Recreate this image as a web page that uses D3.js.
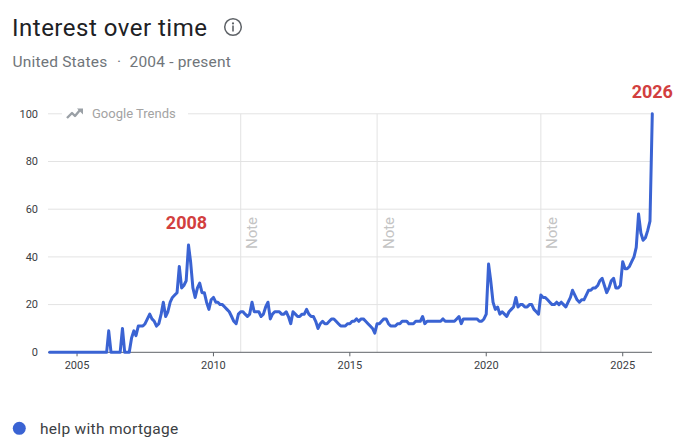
<!DOCTYPE html>
<html>
<head>
<meta charset="utf-8">
<script src="https://cdn.jsdelivr.net/npm/d3@7"></script>
<style>
  body { margin: 0; background: #fff; font-family: Roboto, "Open Sans", sans-serif; }
  svg { display: block; }
</style>
</head>
<body>
<div id="chart"></div>
<script>
/**
 * Data
 */
const startYear = 2004;
// monthly interest, Jan 2004 .. Feb 2026
const interest = [
  0, 0, 0, 0, 0, 0, 0, 0, 0, 0, 0, 0, // 2004
  0, 0, 0, 0, 0, 0, 0, 0, 0, 0, 0, 0, // 2005
  0, 0, 9, 0, 0, 0, 0, 0, 10, 0, 0, 0, // 2006
  6, 9, 7, 11, 11, 11, 12, 14, 16, 14, 13, 11, // 2007
  12, 16, 21, 15, 17, 21, 23, 24, 25, 36, 27, 28, // 2008
  30, 45, 38, 27, 23, 27, 29, 25, 25, 21, 18, 22, // 2009
  23, 21, 21, 20, 20, 19, 18, 17, 15, 13, 12, 16, // 2010
  17, 17, 16, 15, 16, 21, 17, 17, 17, 15, 16, 19, // 2011
  21, 14, 16, 17, 17, 17, 16, 16, 17, 15, 12, 17, // 2012
  16, 15, 15, 16, 16, 18, 16, 15, 15, 13, 10, 12, // 2013
  13, 12, 12, 13, 14, 14, 13, 12, 11, 11, 11, 12, // 2014
  12, 13, 13, 14, 13, 14, 14, 13, 12, 11, 10, 8, // 2015
  12, 12, 13, 14, 14, 12, 11, 11, 11, 12, 12, 13, // 2016
  13, 13, 12, 12, 12, 13, 13, 13, 15, 12, 13, 13, // 2017
  13, 13, 13, 13, 13, 14, 13, 13, 13, 13, 13, 14, // 2018
  15, 12, 14, 14, 14, 14, 14, 14, 14, 13, 13, 14, // 2019
  16, 37, 30, 21, 18, 19, 16, 17, 16, 15, 17, 18, // 2020
  19, 23, 19, 20, 20, 19, 19, 20, 20, 18, 17, 16, // 2021
  24, 23, 23, 22, 21, 20, 20, 21, 20, 21, 20, 19, // 2022
  21, 23, 26, 24, 22, 21, 22, 22, 24, 26, 26, 27, // 2023
  27, 28, 30, 31, 28, 25, 27, 30, 31, 27, 27, 28, // 2024
  38, 35, 35, 36, 38, 40, 44, 58, 50, 47, 48, 51, // 2025
  55, 100 // 2026
];
const yTicks = [0, 20, 40, 60, 80, 100];
const xTickYears = [2005, 2010, 2015, 2020, 2025];
const noteYears = [2011, 2016, 2022];
const peakLabels = ["2008", "2026"];
const peakMonths = [61, 265]; // index into interest
const subtitleParts = ["United States", "\u00b7", "2004 - present"];
const seriesName = "help with mortgage";

/**
 * Globals
 */
const W = 680, H = 447;
const lineColor = "#3a63d3";
const gridColor = "#e3e3e3";

const data = interest.map(function (v, i) {
  return { date: new Date(startYear, i, 1), value: v };
});

const scale = {
  x: d3.scaleTime()
    .domain([data[0].date, data[data.length - 1].date])
    .range([49.7, 652.3]),
  y: d3.scaleLinear().domain([0, 100]).range([352.3, 113.8])
};

const svg = d3.select("#chart").append("svg")
  .attr("width", W).attr("height", H);

// title
svg.append("text")
  .attr("x", 12).attr("y", 36)
  .style("font-size", "24px")
  .style("letter-spacing", "0.5px")
  .style("fill", "#202124")
  .text("Interest over time");

// info icon
const info = svg.append("g").attr("transform", "translate(233,27)");
info.append("circle").attr("r", 8.3)
  .style("fill", "none").style("stroke", "#5f6368").style("stroke-width", 1.5);
info.append("circle").attr("cy", -3.6).attr("r", 1.1).style("fill", "#5f6368");
info.append("rect").attr("x", -0.8).attr("y", -1.5).attr("width", 1.6).attr("height", 6)
  .style("fill", "#5f6368");

// subtitle, in three pieces so the gaps match
svg.selectAll(".subtitle").data(subtitleParts).enter().append("text")
  .attr("class", "subtitle")
  .attr("x", function (d, i) { return [12.5, 119, 129.5][i]; })
  .attr("y", 67)
  .attr("text-anchor", function (d, i) { return i === 1 ? "middle" : "start"; })
  .style("font-size", "15.5px")
  .style("letter-spacing", "0.2px")
  .style("fill", "#70757a")
  .text(function (d) { return d; });

// horizontal grid + y labels
const yAxis = svg.append("g").attr("class", "y axis");
yAxis.selectAll("line").data(yTicks.filter(function (d) { return d > 0; }))
  .enter().append("line")
  .attr("x1", 48).attr("x2", 652)
  .attr("y1", function (d) { return scale.y(d); })
  .attr("y2", function (d) { return scale.y(d); })
  .style("stroke", gridColor).style("stroke-width", 1);
yAxis.selectAll("text").data(yTicks)
  .enter().append("text")
  .attr("x", 38)
  .attr("y", function (d) { return scale.y(d); })
  .attr("dy", "0.35em")
  .attr("text-anchor", "end")
  .style("font-size", "11px")
  .style("fill", "#3c4043")
  .text(function (d) { return d; });

// note lines
const notes = svg.append("g").attr("class", "notes");
notes.selectAll("line").data(noteYears).enter().append("line")
  .attr("x1", function (d) { return scale.x(new Date(d, 0, 1)); })
  .attr("x2", function (d) { return scale.x(new Date(d, 0, 1)); })
  .attr("y1", scale.y(100)).attr("y2", scale.y(0))
  .style("stroke", gridColor).style("stroke-width", 1);
notes.selectAll("text").data(noteYears).enter().append("text")
  .attr("transform", function (d) {
    return "translate(" + (scale.x(new Date(d, 0, 1)) + 16.5) + ",233) rotate(-90)";
  })
  .attr("text-anchor", "middle")
  .style("font-size", "15px")
  .style("fill", "#c4c4c4")
  .text("Note");

// watermark
const wm = svg.append("g").attr("class", "watermark");
wm.append("rect").attr("x", 62).attr("y", 104).attr("width", 126).attr("height", 20)
  .style("fill", "#fff");
wm.append("path")
  .attr("d", "M67,118 L72,113 L75,116 L80,110")
  .style("fill", "none").style("stroke", "#9aa0a6").style("stroke-width", 2.4)
  .style("stroke-linejoin", "round");
wm.append("path").attr("d", "M77,108.5 L83,108.5 L83,114.5 Z").style("fill", "#9aa0a6");
wm.append("text")
  .attr("x", 92).attr("y", 118)
  .style("font-size", "13px")
  .style("fill", "#a3a3a3")
  .text("Google Trends");

// x axis
const xAxis = svg.append("g").attr("class", "x axis");
xAxis.append("line")
  .attr("x1", 48).attr("x2", 652)
  .attr("y1", scale.y(0)).attr("y2", scale.y(0))
  .style("stroke", "#5f6368").style("stroke-width", 1);
xAxis.selectAll("line.tick").data(xTickYears).enter().append("line")
  .attr("class", "tick")
  .attr("x1", function (d) { return scale.x(new Date(d, 0, 1)); })
  .attr("x2", function (d) { return scale.x(new Date(d, 0, 1)); })
  .attr("y1", scale.y(0)).attr("y2", scale.y(0) + 4)
  .style("stroke", "#5f6368");
xAxis.selectAll("text").data(xTickYears).enter().append("text")
  .attr("x", function (d) { return scale.x(new Date(d, 0, 1)); })
  .attr("y", 369)
  .attr("text-anchor", "middle")
  .style("font-size", "11px")
  .style("fill", "#3c4043")
  .text(function (d) { return d; });

// the series line
const line = d3.line()
  .x(function (d) { return scale.x(d.date); })
  .y(function (d) { return scale.y(d.value); });

svg.append("path")
  .datum(data)
  .attr("d", line)
  .style("fill", "none")
  .style("stroke", lineColor)
  .style("stroke-width", 3)
  .style("stroke-linejoin", "round")
  .style("stroke-linecap", "round");

// red peak labels
svg.selectAll(".peak").data(peakLabels).enter().append("text")
  .attr("class", "peak")
  .attr("x", function (d, i) { return scale.x(data[peakMonths[i]].date) + (i === 0 ? -2 : 0); })
  .attr("y", function (d, i) { return scale.y(data[peakMonths[i]].value) - 16; })
  .attr("text-anchor", "middle")
  .style("font-size", "18px")
  .style("font-weight", "bold")
  .style("fill", "#d23f3f")
  .text(function (d) { return d; });

// legend
svg.append("circle").attr("cx", 19.3).attr("cy", 428.3).attr("r", 6.5)
  .style("fill", lineColor);
svg.append("text")
  .attr("x", 40).attr("y", 433.5)
  .style("font-size", "15.5px")
  .style("letter-spacing", "0.3px")
  .style("fill", "#3c4043")
  .text(seriesName);
</script>
</body>
</html>
